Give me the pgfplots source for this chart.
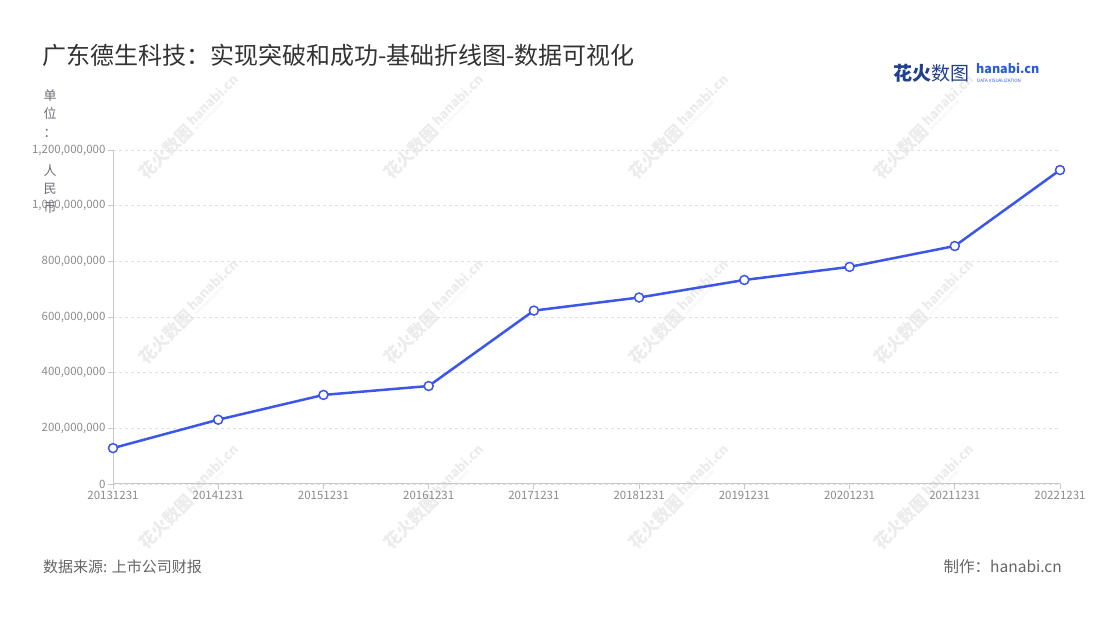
\documentclass[border=0pt]{standalone}
\usepackage{fontspec}
\setmainfont{Noto Sans CJK SC}
\usepackage{pgfplots}
\pgfplotsset{compat=1.18}
\definecolor{lineblue}{HTML}{3B56E8}
\definecolor{titlegray}{HTML}{333333}
\definecolor{tickgray}{HTML}{8C8C8C}
\definecolor{labgray}{HTML}{6E7079}
\definecolor{axgray}{HTML}{C8C8C8}
\definecolor{gridgray}{HTML}{E0E0E0}
\definecolor{footgray}{HTML}{666666}
\definecolor{logoblue}{HTML}{1F3F8F}
\definecolor{logoblue2}{HTML}{2A5BD7}
\definecolor{wm}{HTML}{ECECEC}
\begin{document}
\begin{tikzpicture}[x=1pt,y=1pt]
\fill[white] (0,0) rectangle (1100,620);
% watermarks
\foreach \xx in {190,435,680,925}{
  \foreach \yy in {127,312,497}{
    \node[rotate=45,text=wm,inner sep=0] at (\xx,620-\yy)
      {{\fontsize{17}{18}\selectfont\bfseries 花火数图}\hspace{3pt}\shortstack[l]{{\fontsize{13}{13}\selectfont\bfseries hanabi.cn}\\[-1pt]{\fontsize{4}{4}\selectfont DATA VISUALIZATION}}};
  }
}
\begin{axis}[
  at={(113pt,136pt)}, anchor=south west,
  scale only axis, width=947pt, height=334pt,
  xmin=0, xmax=9, ymin=0, ymax=1200000000,
  axis x line*=bottom, axis y line*=left,
  axis line style={axgray, line width=1pt},
  xtick={0,...,9},
  xticklabels={20131231,20141231,20151231,20161231,20171231,20181231,20191231,20201231,20211231,20221231},
  ytick={0,200000000,400000000,600000000,800000000,1000000000,1200000000},
  yticklabels={0,{200,000,000},{400,000,000},{600,000,000},{800,000,000},{1,000,000,000},{1,200,000,000}},
  scaled y ticks=false,
  tick align=outside, major tick length=5pt,
  tick style={axgray, line width=0.8pt},
  ticklabel style={font=\fontsize{11.5}{13}\selectfont, text=tickgray},
  xticklabel style={yshift=1pt},
  yticklabel style={xshift=1pt},
  ymajorgrids, grid style={gridgray, dashed, line width=0.8pt},
  clip=false,
]
\addplot[lineblue, line width=2.5pt, mark=*, mark size=4.5pt,
  mark options={fill=white, draw=lineblue, line width=1.5pt}]
  coordinates {
  (0,129000000) (1,231000000) (2,320000000) (3,352000000) (4,623000000)
  (5,670000000) (6,733000000) (7,780000000) (8,855000000) (9,1128000000)};
\end{axis}
% y label stacked
\foreach \c/\yy in {单/96,位/114,：/133,人/171,民/189,币/208}{
  \node[text=labgray,font=\fontsize{13}{14}\selectfont] at (50,620-\yy) {\c};
}
% title
\node[anchor=west,text=titlegray,font=\fontsize{24}{28}\selectfont,inner sep=0] at (42,565) {广东德生科技：实现突破和成功-基础折线图-数据可视化};
% logo
\node[anchor=west,text=logoblue,font=\fontsize{19}{20}\selectfont\bfseries,inner sep=0] at (893,547) {花火};
\node[anchor=west,text=logoblue,font=\fontsize{19}{20}\selectfont,inner sep=0] at (931,547) {数图};
\node[anchor=west,text=logoblue2,font=\fontsize{12.5}{14}\selectfont\bfseries,inner sep=0] at (976,552) {hanabi.cn};
\node[anchor=west,text=logoblue2,font=\fontsize{4.5}{5}\selectfont,inner sep=0] at (977,539) {DATA VISUALIZATION};
% footer
\node[anchor=west,text=footgray,font=\fontsize{15}{17}\selectfont,inner sep=0] at (43,53) {数据来源: 上市公司财报};
\node[anchor=east,text=footgray,font=\fontsize{15.5}{17}\selectfont,inner sep=0] at (1062,53) {制作：hanabi.cn};
\end{tikzpicture}
\end{document}
